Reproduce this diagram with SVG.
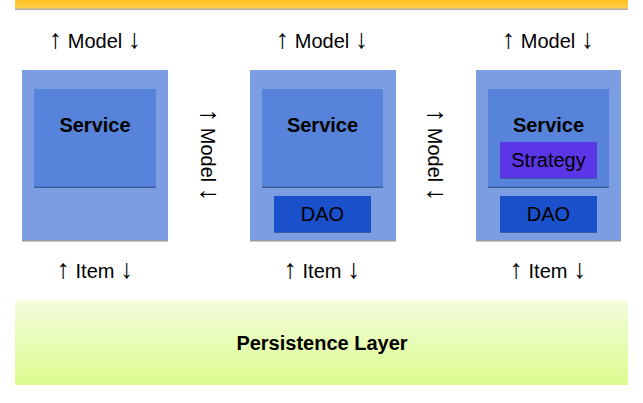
<svg xmlns="http://www.w3.org/2000/svg" width="643" height="403" viewBox="0 0 643 403">
<defs>
<linearGradient id="topg" x1="0" y1="0" x2="0" y2="1">
<stop offset="0" stop-color="#FFC126"/>
<stop offset="1" stop-color="#FFCF4A"/>
</linearGradient>
<linearGradient id="persg" x1="0" y1="0" x2="0" y2="1">
<stop offset="0" stop-color="#F3FCDC"/>
<stop offset="1" stop-color="#DCFC8F"/>
</linearGradient>
<style>
text{font-family:"Liberation Sans",Arial,sans-serif;fill:#000;text-anchor:middle}
.lbl{font-size:20px}
.ar{font-size:27px;font-weight:normal}
.b{font-size:20px;font-weight:bold}
.outer{fill:#7B9DE1}
.svc{fill:#5784DA}
.dao{fill:#1A50C9}
.strat{fill:#5A36E6}
.shadow{fill:#9A9A9A}
.sh2{fill:#3E5C9E}
</style>
</defs>
<rect width="643" height="403" fill="#fff"/>
<g id="topbar">
<rect x="15" y="0" width="613" height="10" class="shadow" opacity="0.8"/>
<rect x="15" y="0" width="613" height="8.5" fill="url(#topg)"/>
</g>
<g id="connectors">
<text class="lbl" x="95" y="48"><tspan class="ar">↑</tspan> Model <tspan class="ar">↓</tspan></text>
<text class="lbl" x="322" y="48"><tspan class="ar">↑</tspan> Model <tspan class="ar">↓</tspan></text>
<text class="lbl" x="548" y="48"><tspan class="ar">↑</tspan> Model <tspan class="ar">↓</tspan></text>
<text class="lbl" transform="translate(201 155) rotate(90)" x="0" y="0"><tspan class="ar">↑</tspan> Model <tspan class="ar">↓</tspan></text>
<text class="lbl" transform="translate(428 155) rotate(90)" x="0" y="0"><tspan class="ar">↑</tspan> Model <tspan class="ar">↓</tspan></text>
<text class="lbl" x="95" y="278"><tspan class="ar">↑</tspan> Item <tspan class="ar">↓</tspan></text>
<text class="lbl" x="322" y="278"><tspan class="ar">↑</tspan> Item <tspan class="ar">↓</tspan></text>
<text class="lbl" x="548" y="278"><tspan class="ar">↑</tspan> Item <tspan class="ar">↓</tspan></text>
</g>
<g id="node1">
<rect x="22" y="70" width="146" height="171.5" class="shadow"/>
<rect x="22" y="70" width="146" height="170" class="outer"/>
<rect x="34" y="89" width="122" height="99" class="sh2"/>
<rect x="34" y="89" width="122" height="97.5" class="svc"/>
<text class="b" x="95" y="132">Service</text>
</g>
<g id="node2">
<rect x="250" y="70" width="146" height="171.5" class="shadow"/>
<rect x="250" y="70" width="146" height="170" class="outer"/>
<rect x="262" y="89" width="121" height="99" class="sh2"/>
<rect x="262" y="89" width="121" height="97.5" class="svc"/>
<text class="b" x="322.5" y="132">Service</text>
<rect x="274" y="196" width="97" height="37" class="sh2"/>
<rect x="274" y="196" width="97" height="36" class="dao"/>
<text class="lbl" x="322.5" y="221">DAO</text>
</g>
<g id="node3">
<rect x="476" y="70" width="145" height="171.5" class="shadow"/>
<rect x="476" y="70" width="145" height="170" class="outer"/>
<rect x="488" y="89" width="121" height="99" class="sh2"/>
<rect x="488" y="89" width="121" height="97.5" class="svc"/>
<text class="b" x="548.5" y="132">Service</text>
<rect x="500" y="142" width="97" height="37" class="sh2"/>
<rect x="500" y="142" width="97" height="36" class="strat"/>
<text class="lbl" x="548.5" y="167">Strategy</text>
<rect x="500" y="196" width="97" height="37" class="sh2"/>
<rect x="500" y="196" width="97" height="36" class="dao"/>
<text class="lbl" x="548.5" y="221">DAO</text>
</g>
<g id="persistence">
<rect x="15" y="300.5" width="613" height="84.5" fill="url(#persg)"/>
<text class="b" x="322" y="350">Persistence Layer</text>
</g>
</svg>
